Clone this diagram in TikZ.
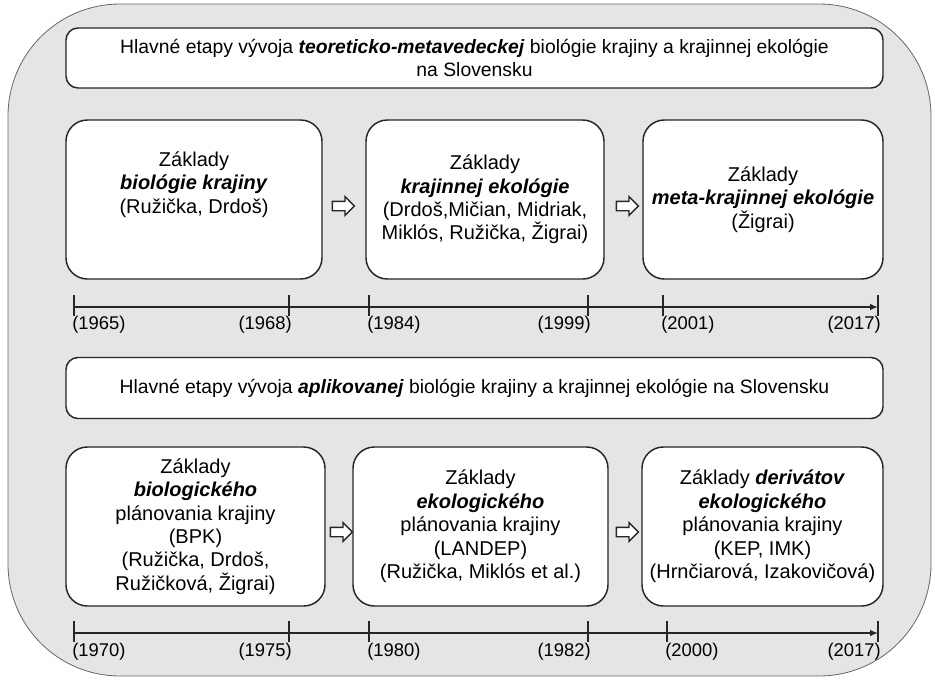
\documentclass[tikz,border=0pt]{standalone}
\usepackage{fontspec}
\setmainfont{Liberation Sans}
\usetikzlibrary{shapes.arrows,arrows.meta}

\begin{document}
\begin{tikzpicture}
	[x=0.75pt,y=-0.75pt,
	 stage/.style={rectangle,rounded corners=16pt,draw=black!85,fill=white,line width=1.1pt,align=center,inner sep=0pt,minimum height=119.25pt,font=\fontsize{15}{17.6}\selectfont},
	 head/.style={rectangle,rounded corners=9pt,draw=black!85,fill=white,line width=1.1pt,align=center,inner sep=0pt,minimum width=612.75pt,font=\fontsize{14.5}{17.6}\selectfont},
	 pointer/.style={single arrow,draw=black!85,fill=white,line width=1pt,inner xsep=0pt,inner ysep=3pt,minimum height=16.5pt,single arrow head extend=3.5pt},
	 year/.style={inner sep=0pt,font=\fontsize{13.8}{15}\selectfont},
	 axis/.style={line width=1.1pt,draw=black!85,-{Latex[length=6pt,width=5pt]}},
	 tickline/.style={line width=1.1pt,draw=black!85}]
    \useasboundingbox (0,0) rectangle (935,679);
    \draw[draw=black!60,fill=black!10,line width=0.6pt,rounded corners=84pt] (8,4) rectangle (931,676);
    % teoreticko-metavedecka vetva
    \node[head,minimum height=45pt] at (474.5,58) (t1) {Hlavné etapy vývoja \textbf{\textit{teoreticko-metavedeckej}} biológie krajiny a krajinnej ekológie\\na Slovensku};
    \node[stage,minimum width=192pt]   at (194,199.5) (s1) {Základy\\\textbf{\textit{biológie krajiny}}\\(Ružička, Drdoš)\\[8pt]};
    \node[stage,minimum width=178.5pt] at (485,199.5) (s2) {Základy\\\textbf{\textit{krajinnej ekológie}}\\(Drdoš,Mičian, Midriak,\\Miklós, Ružička, Žigrai)};
    \node[stage,minimum width=180pt]   at (763,199.5) (s3) {Základy\\\textbf{\textit{meta-krajinnej ekológie}}\\(Žigrai)};
    \node[pointer] at (341,206) (a1) {};
    \node[pointer] at (625,206) (a2) {};
    \coordinate (p1) at (74,307);
    \coordinate (p6) at (878,307);
    \draw[axis] (p1) -- (p6);
    \draw[tickline] (74,295) -- (74,316) (289,295) -- (289,316) (369,295) -- (369,316)
        (588,295) -- (588,316) (663,295) -- (663,316) (878,295) -- (878,316);
    \node[year,anchor=west] at (72,325)  (y1) {(1965)};
    \node[year,anchor=east] at (292,325) (y2) {(1968)};
    \node[year,anchor=west] at (367,325) (y3) {(1984)};
    \node[year,anchor=east] at (591,325) (y4) {(1999)};
    \node[year,anchor=west] at (661,325) (y5) {(2001)};
    \node[year,anchor=east] at (881,325) (y6) {(2017)};
    % aplikovana vetva
    \node[head,minimum height=45.75pt] at (474.5,388) (t2) {Hlavné etapy vývoja \textbf{\textit{aplikovanej}} biológie krajiny a krajinnej ekológie na Slovensku};
    \node[stage,minimum width=194.25pt] at (195.5,526.5) (s4) {Základy\\\textbf{\textit{biologického}}\\plánovania krajiny\\(BPK)\\(Ružička, Drdoš,\\Ružičková, Žigrai)};
    \node[stage,minimum width=191.25pt] at (480.5,526.5) (s5) {Základy\\\textbf{\textit{ekologického}}\\plánovania krajiny\\(LANDEP)\\(Ružička, Miklós et al.)};
    \node[stage,minimum width=180.75pt] at (762.5,526.5) (s6) {Základy \textbf{\textit{derivátov}}\\\textbf{\textit{ekologického}}\\plánovania krajiny\\(KEP, IMK)\\(Hrnčiarová, Izakovičová)};
    \node[pointer] at (339,532) (a3) {};
    \node[pointer] at (625,532) (a4) {};
    \coordinate (q1) at (74,633);
    \coordinate (q6) at (878,633);
    \draw[axis] (q1) -- (q6);
    \draw[tickline] (74,621) -- (74,642) (289,621) -- (289,642) (369,621) -- (369,642)
        (588,621) -- (588,642) (667,621) -- (667,642) (878,621) -- (878,642);
    \node[year,anchor=west] at (72,652)  (y7) {(1970)};
    \node[year,anchor=east] at (292,652) (y8) {(1975)};
    \node[year,anchor=west] at (367,652) (y9) {(1980)};
    \node[year,anchor=east] at (591,652) (y10) {(1982)};
    \node[year,anchor=west] at (665,652) (y11) {(2000)};
    \node[year,anchor=east] at (881,652) (y12) {(2017)};
\end{tikzpicture}
\end{document}
